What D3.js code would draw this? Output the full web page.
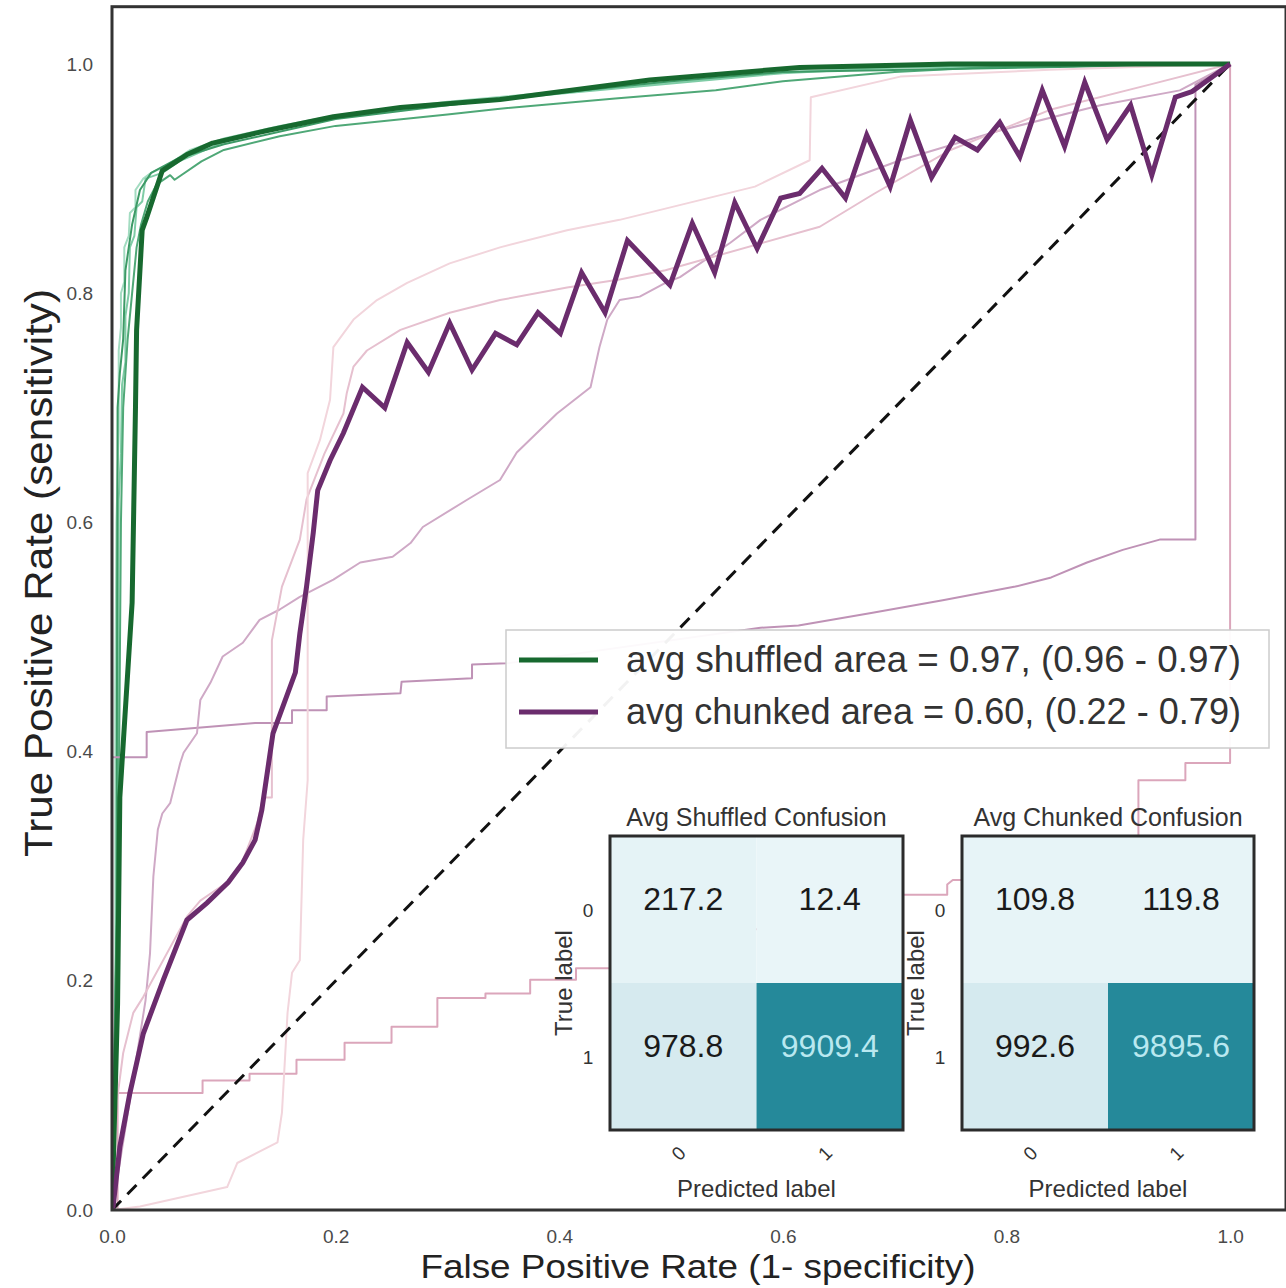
<!DOCTYPE html>
<html>
<head>
<meta charset="utf-8">
<script src="https://cdn.jsdelivr.net/npm/d3@7"></script>
<style>
  html, body { margin: 0; padding: 0; background: #ffffff; }
  svg { display: block; font-family: "Liberation Sans", Arial, Helvetica, sans-serif; }
</style>
</head>
<body>
<svg id="chart" width="1286" height="1288"></svg>
<script>
// ---------------- DATA ----------------
const xTicks = [0.0, 0.2, 0.4, 0.6, 0.8, 1.0];
const yTicks = [0.0, 0.2, 0.4, 0.6, 0.8, 1.0];

const legendLabels = [
  "avg shuffled area = 0.97, (0.96 - 0.97)",
  "avg chunked area = 0.60, (0.22 - 0.79)"
];

// mean ROC curves
const meanShuffledFpr = [0, 0.005, 0.007, 0.018, 0.021, 0.022, 0.027, 0.031, 0.045, 0.067, 0.09, 0.139, 0.198, 0.258, 0.347, 0.481, 0.615, 0.75, 0.9, 1.0];
const meanShuffledTpr = [0, 0.18, 0.36, 0.53, 0.70, 0.768, 0.855, 0.866, 0.907, 0.921, 0.931, 0.942, 0.954, 0.962, 0.969, 0.986, 0.997, 1.0, 1.0, 1.0];

const meanChunkedFpr = [0, 0.001, 0.007, 0.016, 0.028, 0.046, 0.067, 0.085, 0.104, 0.117, 0.128, 0.134, 0.144, 0.164, 0.168, 0.174, 0.180, 0.184, 0.195, 0.207,
  0.224, 0.244, 0.264, 0.283, 0.302, 0.322, 0.343, 0.362, 0.381, 0.401, 0.420, 0.441, 0.461, 0.499, 0.519, 0.539, 0.557, 0.577, 0.598, 0.615,
  0.635, 0.656, 0.675, 0.696, 0.714, 0.733, 0.754, 0.774, 0.794, 0.812, 0.832, 0.852, 0.870, 0.890, 0.911, 0.930, 0.951, 0.966, 1.0];
const meanChunkedTpr = [0, 0.003, 0.055, 0.102, 0.154, 0.201, 0.253, 0.268, 0.286, 0.303, 0.323, 0.349, 0.416, 0.469, 0.503, 0.544, 0.591, 0.628, 0.654, 0.678,
  0.718, 0.700, 0.757, 0.731, 0.774, 0.733, 0.765, 0.755, 0.783, 0.765, 0.818, 0.783, 0.846, 0.807, 0.861, 0.818, 0.879, 0.839, 0.883, 0.887,
  0.909, 0.883, 0.938, 0.893, 0.951, 0.901, 0.936, 0.925, 0.949, 0.919, 0.977, 0.928, 0.984, 0.934, 0.964, 0.903, 0.971, 0.976, 1.0];

// individual shuffled folds [fpr, tpr]
const shuffledFold1 = [[0,0],[0.003,0.12],[0.003,0.45],[0.004,0.6],[0.006,0.68],[0.006,0.75],[0.008,0.77],[0.008,0.80],[0.011,0.81],[0.011,0.84],[0.015,0.85],[0.016,0.87],[0.021,0.875],[0.021,0.89],[0.028,0.9],[0.035,0.905],[0.05,0.912],[0.07,0.925],[0.1,0.935],[0.15,0.946],[0.2,0.955],[0.3,0.967],[0.4,0.976],[0.5,0.984],[0.6,0.993],[0.7,0.997],[0.8,0.999],[1,1]];
const shuffledFold2 = [[0,0],[0.005,0.3],[0.006,0.62],[0.008,0.66],[0.009,0.72],[0.012,0.74],[0.012,0.78],[0.015,0.8],[0.016,0.84],[0.02,0.85],[0.022,0.875],[0.027,0.88],[0.03,0.9],[0.045,0.905],[0.06,0.915],[0.1,0.932],[0.15,0.944],[0.2,0.953],[0.3,0.965],[0.4,0.974],[0.5,0.983],[0.6,0.992],[0.7,0.997],[1,1]];
const shuffledFold3 = [[0,0],[0.006,0.35],[0.008,0.6],[0.01,0.7],[0.014,0.76],[0.018,0.8],[0.022,0.84],[0.026,0.86],[0.032,0.88],[0.04,0.895],[0.052,0.903],[0.056,0.899],[0.08,0.915],[0.1,0.925],[0.15,0.937],[0.2,0.946],[0.3,0.956],[0.347,0.961],[0.45,0.97],[0.54,0.977],[0.6,0.985],[0.7,0.993],[0.8,0.998],[1,1]];
const shuffledFold4 = [[0,0],[0.004,0.25],[0.005,0.7],[0.007,0.73],[0.01,0.76],[0.012,0.82],[0.018,0.86],[0.025,0.89],[0.035,0.905],[0.06,0.918],[0.1,0.93],[0.2,0.952],[0.3,0.964],[0.4,0.975],[0.5,0.985],[0.6,0.993],[1,1]];

// individual chunked folds [fpr, tpr]
const chunkedFold1 = [[0,0],[0,0.395],[0.031,0.395],[0.031,0.417],[0.128,0.425],[0.161,0.425],[0.161,0.436],[0.192,0.436],[0.192,0.448],[0.258,0.451],[0.259,0.461],[0.322,0.464],[0.322,0.476],[0.353,0.477],[0.580,0.508],[0.614,0.510],[0.679,0.521],[0.743,0.532],[0.808,0.544],[0.840,0.552],[0.872,0.565],[0.904,0.576],[0.937,0.585],[0.969,0.585],[0.969,0.982],[1,1]];
const chunkedFold2 = [[0,0],[0.005,0],[0.005,0.102],[0.081,0.102],[0.081,0.113],[0.123,0.113],[0.123,0.119],[0.165,0.119],[0.165,0.131],[0.208,0.131],[0.208,0.146],[0.250,0.146],[0.250,0.160],[0.291,0.160],[0.291,0.185],[0.334,0.185],[0.334,0.189],[0.374,0.189],[0.374,0.201],[0.415,0.201],[0.415,0.211],[0.47,0.211],[0.47,0.225],[0.55,0.225],[0.55,0.245],[0.62,0.245],[0.62,0.262],[0.70,0.262],[0.70,0.275],[0.747,0.275],[0.747,0.284],[0.752,0.288],[0.80,0.288],[0.80,0.30],[0.86,0.30],[0.86,0.325],[0.918,0.325],[0.918,0.375],[0.960,0.375],[0.960,0.390],[1.0,0.390],[1.0,1.0]];
const chunkedFold3 = [[0,0],[0.003,0.017],[0.016,0.096],[0.03,0.183],[0.034,0.224],[0.037,0.291],[0.041,0.332],[0.045,0.346],[0.052,0.355],[0.061,0.39],[0.064,0.399],[0.076,0.416],[0.079,0.445],[0.088,0.46],[0.099,0.483],[0.117,0.495],[0.132,0.515],[0.15,0.524],[0.168,0.535],[0.198,0.55],[0.222,0.565],[0.251,0.57],[0.267,0.582],[0.278,0.596],[0.318,0.62],[0.347,0.637],[0.362,0.661],[0.398,0.695],[0.428,0.718],[0.436,0.753],[0.443,0.777],[0.454,0.794],[0.472,0.797],[0.495,0.809],[0.508,0.814],[0.553,0.844],[0.58,0.864],[0.633,0.89],[0.705,0.916],[0.794,0.942],[0.884,0.964],[0.955,0.977],[1,1]];
const chunkedFold4 = [[0,0],[0.001,0.07],[0.01,0.137],[0.019,0.172],[0.028,0.186],[0.067,0.256],[0.079,0.27],[0.106,0.288],[0.117,0.305],[0.13,0.338],[0.135,0.36],[0.143,0.36],[0.143,0.497],[0.152,0.544],[0.168,0.585],[0.174,0.62],[0.19,0.66],[0.207,0.695],[0.21,0.713],[0.216,0.736],[0.228,0.75],[0.258,0.768],[0.302,0.783],[0.347,0.794],[0.407,0.805],[0.454,0.812],[0.495,0.82],[0.633,0.858],[0.682,0.887],[0.75,0.925],[0.839,0.96],[0.928,0.982],[1,1]];
const chunkedFold5 = [[0,0],[0.025,0.003],[0.103,0.02],[0.112,0.041],[0.148,0.059],[0.152,0.085],[0.157,0.172],[0.161,0.207],[0.168,0.218],[0.171,0.323],[0.175,0.375],[0.175,0.643],[0.186,0.672],[0.195,0.707],[0.198,0.753],[0.216,0.777],[0.237,0.794],[0.264,0.809],[0.302,0.826],[0.347,0.84],[0.407,0.855],[0.454,0.864],[0.575,0.893],[0.624,0.916],[0.625,0.971],[0.705,0.989],[0.839,0.995],[1,1]];

const shuffledFolds = [shuffledFold1, shuffledFold2, shuffledFold3, shuffledFold4];
const shuffledFoldColors = ["#a3dcc1", "#7fcca6", "#4fa877", "#3d9a66"];
const chunkedFolds = [chunkedFold1, chunkedFold2, chunkedFold3, chunkedFold4, chunkedFold5];
const chunkedFoldColors = ["#bf92b6", "#dba6bb", "#cfa9c6", "#e6c0cf", "#f2d5dc"];

// confusion matrices
const confLabels = ["0", "1"];
const shuffledConfusion = [[217.2, 12.4], [978.8, 9909.4]];
const chunkedConfusion  = [[109.8, 119.8], [992.6, 9895.6]];
const confTitles = ["Avg Shuffled Confusion", "Avg Chunked Confusion"];

// ---------------- DRAW ----------------
const svg = d3.select("#chart");
svg.append("rect").attr("width", 1286).attr("height", 1288).attr("fill", "#ffffff");

const x = d3.scaleLinear().domain([0, 1.05]).range([112, 1286]);
const y = d3.scaleLinear().domain([0, 1.05]).range([1210, 6.7]);

svg.append("defs").append("clipPath").attr("id", "plotclip")
  .append("rect").attr("x", x(0)).attr("y", y(1.05)).attr("width", x(1.05) - x(0)).attr("height", y(0) - y(1.05));

const plot = svg.append("g").attr("clip-path", "url(#plotclip)");
const line = d3.line().x(d => x(d[0])).y(d => y(d[1]));

// folds
shuffledFolds.forEach((f, i) => {
  plot.append("path").attr("d", line(f)).attr("fill", "none")
    .attr("stroke", shuffledFoldColors[i]).attr("stroke-width", 2).attr("stroke-linejoin", "round");
});
chunkedFolds.forEach((f, i) => {
  plot.append("path").attr("d", line(f)).attr("fill", "none")
    .attr("stroke", chunkedFoldColors[i]).attr("stroke-width", 2).attr("stroke-linejoin", "round");
});

// diagonal
plot.append("path").attr("d", line([[0, 0], [1, 1]])).attr("fill", "none")
  .attr("stroke", "#111").attr("stroke-width", 3).attr("stroke-dasharray", "13,9");

// means
const meanShuffled = meanShuffledFpr.map((v, i) => [v, meanShuffledTpr[i]]);
const meanChunked = meanChunkedFpr.map((v, i) => [v, meanChunkedTpr[i]]);
plot.append("path").attr("d", line(meanShuffled)).attr("fill", "none")
  .attr("stroke", "#17692f").attr("stroke-width", 5).attr("stroke-linejoin", "round");
plot.append("path").attr("d", line(meanChunked)).attr("fill", "none")
  .attr("stroke", "#6b2c6d").attr("stroke-width", 5).attr("stroke-linejoin", "miter");

// axes
const fmt = d3.format(".1f");
const xAxis = svg.append("g").attr("transform", `translate(0,${y(0)})`)
  .call(d3.axisBottom(x).tickValues(xTicks).tickFormat(fmt).tickSize(0).tickPadding(20));
const yAxis = svg.append("g").attr("transform", `translate(${x(0)},0)`)
  .call(d3.axisLeft(y).tickValues(yTicks).tickFormat(fmt).tickSize(0).tickPadding(19));
[xAxis, yAxis].forEach(a => {
  a.select(".domain").remove();
  a.selectAll("text").attr("font-size", 19).attr("fill", "#4a4a4a")
    .attr("font-family", "'Liberation Sans', Arial, sans-serif");
});

// frame
svg.append("rect").attr("x", x(0)).attr("y", y(1.05)).attr("width", x(1.05) - x(0)).attr("height", y(0) - y(1.05))
  .attr("fill", "none").attr("stroke", "#333").attr("stroke-width", 3);

// axis labels
svg.append("text").attr("x", 698).attr("y", 1278).attr("text-anchor", "middle")
  .attr("font-size", 34).attr("fill", "#222").attr("textLength", 555).attr("lengthAdjust", "spacingAndGlyphs")
  .text("False Positive Rate (1- specificity)");
svg.append("text").attr("transform", "translate(52,573) rotate(-90)").attr("text-anchor", "middle")
  .attr("font-size", 39).attr("fill", "#222").attr("textLength", 568).attr("lengthAdjust", "spacingAndGlyphs")
  .text("True Positive Rate (sensitivity)");

// legend
const lg = svg.append("g");
lg.append("rect").attr("x", 506).attr("y", 630).attr("width", 763).attr("height", 118)
  .attr("fill", "#ffffff").attr("fill-opacity", 0.95).attr("stroke", "#cccccc").attr("stroke-width", 1.5);
const legendColors = ["#17692f", "#6b2c6d"];
legendLabels.forEach((t, i) => {
  const ly = 660 + i * 52;
  lg.append("line").attr("x1", 519).attr("x2", 598).attr("y1", ly).attr("y2", ly)
    .attr("stroke", legendColors[i]).attr("stroke-width", 5);
  lg.append("text").attr("x", 626).attr("y", ly + 12).attr("font-size", 36).attr("fill", "#333")
    .attr("textLength", 615).attr("lengthAdjust", "spacingAndGlyphs").text(t);
});

// confusion matrix insets
const maxVal = Math.max(d3.max(shuffledConfusion.flat()), d3.max(chunkedConfusion.flat()));
const color = d3.scaleLinear().domain([0, maxVal]).range(["#e9f5f8", "#25899a"]);

function drawMatrix(data, title, x0, x1, y0, y1) {
  const g = svg.append("g");
  const cx = d3.scaleBand().domain(confLabels).range([x0, x1]);
  const cy = d3.scaleBand().domain(confLabels).range([y0, y1]);
  data.forEach((row, r) => row.forEach((v, c) => {
    g.append("rect").attr("x", cx(confLabels[c])).attr("y", cy(confLabels[r]))
      .attr("width", cx.bandwidth()).attr("height", cy.bandwidth()).attr("fill", color(v));
    g.append("text").attr("x", cx(confLabels[c]) + cx.bandwidth() / 2)
      .attr("y", cy(confLabels[r]) + cy.bandwidth() / 2)
      .attr("text-anchor", "middle").attr("font-size", 32)
      .attr("fill", v > maxVal / 2 ? "#b9e8f0" : "#1a1a1a").text(d3.format(".1f")(v));
  }));
  g.append("rect").attr("x", x0).attr("y", y0).attr("width", x1 - x0).attr("height", y1 - y0)
    .attr("fill", "none").attr("stroke", "#2b2b2b").attr("stroke-width", 3);
  const mid = (x0 + x1) / 2;
  g.append("text").attr("x", mid).attr("y", y0 - 10).attr("text-anchor", "middle")
    .attr("font-size", 25).attr("fill", "#333").text(title);
  confLabels.forEach(l => {
    g.append("text").attr("x", x0 - 22).attr("y", cy(l) + cy.bandwidth() / 2 + 7)
      .attr("text-anchor", "middle").attr("font-size", 19).attr("fill", "#333").text(l);
    g.append("text").attr("transform", `translate(${cx(l) + cx.bandwidth() / 2},${y1 + 28}) rotate(-45)`)
      .attr("text-anchor", "middle").attr("font-size", 19).attr("fill", "#333").text(l);
  });
  g.append("text").attr("x", mid).attr("y", y1 + 67).attr("text-anchor", "middle")
    .attr("font-size", 24).attr("fill", "#333").text("Predicted label");
  g.append("text").attr("transform", `translate(${x0 - 38},${(y0 + y1) / 2}) rotate(-90)`)
    .attr("text-anchor", "middle").attr("font-size", 24).attr("fill", "#333").text("True label");
}
drawMatrix(shuffledConfusion, confTitles[0], 610, 903, 836, 1130);
drawMatrix(chunkedConfusion, confTitles[1], 962, 1254, 836, 1130);
</script>
</body>
</html>
